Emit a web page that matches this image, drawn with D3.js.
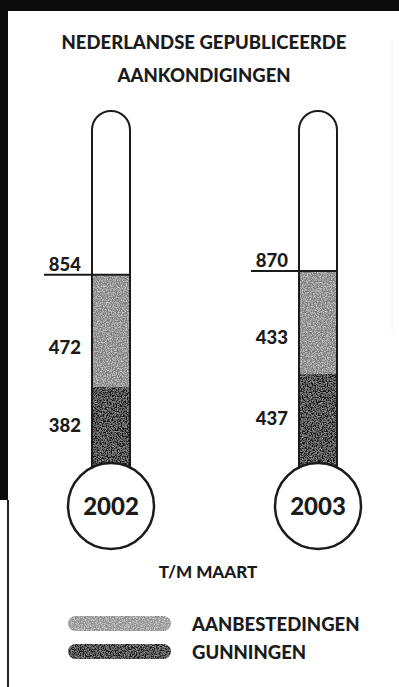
<!DOCTYPE html>
<html>
<head>
<meta charset="utf-8">
<script src="https://cdn.jsdelivr.net/npm/d3@7/dist/d3.min.js"></script>
<style>
  html, body { margin: 0; padding: 0; background: #fff; }
  svg { display: block; }
  text { font-family: Lato, "Noto Sans", sans-serif; font-weight: 900; fill: #1b1b1b; }
</style>
</head>
<body>
<script>
// Published Dutch tender notices, January through March
const years = ["2002", "2003"];
const aanbestedingen = [472, 433];
const gunningen = [382, 437];
const totals = [854, 870];
const seriesNames = ["AANBESTEDINGEN", "GUNNINGEN"];
const titleLines = ["NEDERLANDSE GEPUBLICEERDE", "AANKONDIGINGEN"];
const subtitle = "T/M MAART";

const W = 399, H = 687;
const colors = { aanbestedingen: "#7b7b7b", gunningen: "#181818" };

const svg = d3.select("body").append("svg").attr("width", W).attr("height", H);

// print grain for the shaded fills
const defs = svg.append("defs");
function grainFilter(id, strength) {
  const f = defs.append("filter").attr("id", id).attr("x", 0).attr("y", 0).attr("width", 1).attr("height", 1);
  f.append("feTurbulence").attr("type", "fractalNoise").attr("baseFrequency", 0.8).attr("numOctaves", 2).attr("seed", 3).attr("result", "noise");
  f.append("feColorMatrix").attr("in", "noise").attr("type", "matrix")
    .attr("values", `0 0 0 0 1  0 0 0 0 1  0 0 0 0 1  0 0 0 ${-1.3 * strength} ${0.8 * strength}`).attr("result", "specks");
  f.append("feComposite").attr("in", "specks").attr("in2", "SourceGraphic").attr("operator", "in").attr("result", "clipped");
  f.append("feBlend").attr("in", "SourceGraphic").attr("in2", "clipped").attr("mode", "screen");
}
grainFilter("grain", 1);
grainFilter("grainDark", 0.6);

// page frame
svg.append("rect").attr("x", 0).attr("y", 0).attr("width", W).attr("height", 11).attr("fill", "#0c0c0c");
svg.append("rect").attr("x", 0).attr("y", 0).attr("width", 8).attr("height", 500).attr("fill", "#0c0c0c");
svg.append("line").attr("x1", 8).attr("x2", 8).attr("y1", 500).attr("y2", H).attr("stroke", "#222").attr("stroke-width", 2);
svg.append("line").attr("x1", 392).attr("x2", 392).attr("y1", 40).attr("y2", 330).attr("stroke", "#ececec").attr("stroke-width", 1);

// title
svg.append("g").selectAll("text").data(titleLines).join("text")
  .attr("x", 204).attr("y", (d, i) => 49 + i * 33)
  .attr("text-anchor", "middle").attr("font-size", 18.5)
  .text(d => d);

// scales
const x = d3.scalePoint().domain(years).range([111, 318]);
const y = d3.scaleLinear().domain([0, 1000]).range([478, 240]);

const tubeW = 38, r = tubeW / 2;
const tubeTop = 111;
const bulbY = 506, bulbR = 43;

const rows = years.map((yr, i) => ({
  year: yr, aan: aanbestedingen[i], gun: gunningen[i], total: totals[i]
}));

const g = svg.append("g");
const therm = g.selectAll("g.therm").data(rows).join("g").attr("class", "therm");

// stacked fills in the tube
therm.append("rect")
  .attr("x", d => x(d.year) - r).attr("width", tubeW)
  .attr("y", d => y(d.gun + d.aan)).attr("height", d => y(d.gun) - y(d.gun + d.aan))
  .attr("fill", colors.aanbestedingen).attr("filter", "url(#grain)");
therm.append("rect")
  .attr("x", d => x(d.year) - r).attr("width", tubeW)
  .attr("y", d => y(d.gun)).attr("height", d => y(0) - y(d.gun))
  .attr("fill", colors.gunningen).attr("filter", "url(#grainDark)");

// tube outline with rounded top
therm.append("path")
  .attr("d", d => {
    const cx = x(d.year);
    return `M${cx - r},${bulbY} L${cx - r},${tubeTop + r} A${r},${r} 0 0 1 ${cx + r},${tubeTop + r} L${cx + r},${bulbY}`;
  })
  .attr("fill", "none").attr("stroke", "#1b1b1b").attr("stroke-width", 2);

// total marker line and value
therm.append("line")
  .attr("x1", d => x(d.year) - 67).attr("x2", d => x(d.year) + r)
  .attr("y1", d => y(d.total)).attr("y2", d => y(d.total))
  .attr("stroke", "#1b1b1b").attr("stroke-width", 2);
therm.append("text")
  .attr("x", d => x(d.year) - 30).attr("y", d => y(d.total) - 4)
  .attr("text-anchor", "end").attr("font-size", 18.5)
  .text(d => d.total);

// segment values
therm.append("text")
  .attr("x", d => x(d.year) - 30).attr("y", d => y(d.gun + d.aan * 0.35))
  .attr("dy", "0.35em").attr("text-anchor", "end").attr("font-size", 18.5)
  .text(d => d.aan);
therm.append("text")
  .attr("x", d => x(d.year) - 30).attr("y", d => (y(d.gun) + bulbY - bulbR) / 2)
  .attr("dy", "0.35em").attr("text-anchor", "end").attr("font-size", 18.5)
  .text(d => d.gun);

// bulb with year
therm.append("circle")
  .attr("cx", d => x(d.year)).attr("cy", bulbY).attr("r", bulbR)
  .attr("fill", "#fff").attr("stroke", "#1b1b1b").attr("stroke-width", 2.5);
therm.append("text")
  .attr("x", d => x(d.year)).attr("y", bulbY + 9)
  .attr("text-anchor", "middle").attr("font-size", 24)
  .text(d => d.year);

// subtitle
svg.append("text").attr("x", 208).attr("y", 578).attr("text-anchor", "middle")
  .attr("font-size", 17).text(subtitle);

// legend
const legend = svg.append("g").selectAll("g").data(seriesNames).join("g")
  .attr("transform", (d, i) => `translate(68, ${616 + i * 28})`);
legend.append("rect")
  .attr("width", 103).attr("height", 15).attr("rx", 7.5)
  .attr("fill", (d, i) => i === 0 ? "#8e8e8e" : colors.gunningen)
  .attr("filter", (d, i) => i === 0 ? "url(#grain)" : "url(#grainDark)");
legend.append("text").attr("x", 124).attr("y", 14.5).attr("font-size", 18.5).text(d => d);
</script>
</body>
</html>
